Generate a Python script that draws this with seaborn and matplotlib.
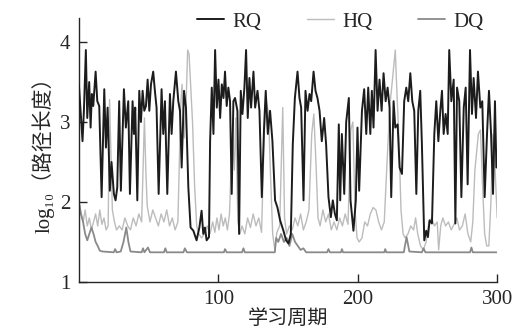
import numpy as np
import pandas as pd
import matplotlib
matplotlib.use("Agg")
import matplotlib.pyplot as plt
import seaborn as sns

# ---- data ----
rq_x = [0, 2.6, 3.6, 5, 6, 7.4, 8.4, 9.3, 10.3, 12, 13.2, 14.6, 16.3, 18.2, 19.4, 20.6, 22.2, 23.4, 25.1, 26.3,
        27.5, 28.9, 30.1, 32.3, 33.7, 35.4, 36.6, 38.5, 39.5, 40.4, 41.9, 43.3, 44.5, 45.7, 46.9, 48.1, 49.3, 50.5,
        51.7, 53.3, 54.5, 55.7, 57.2, 59.3, 60.5, 61.7, 63.4, 65.3, 66.5, 67.7, 69.6, 71.3, 72.5, 73.7, 75.4, 76.8,
        78.5, 80.1, 82.1, 84.4, 86.4, 88, 89.2, 90.4, 91.6, 93.3, 94.1, 95.3, 96.5, 97.7, 98.9, 100.1, 101.3, 102.5,
        103.7, 104.8, 106, 107.2, 108.4, 109.6, 110.8, 112, 113.7, 114.9, 116.1, 117.3, 118.7, 119.9, 121.1, 122.3,
        123.5, 125.2, 126.4, 128.1, 129.5, 131.2, 132.8, 134, 135.5, 137.1, 138.8, 140.7, 142.4, 144.3, 146.7,
        148.6, 150.3, 152, 153.4, 154.9, 156.8, 158.2, 159.4, 161.1, 162.5, 164, 165.4, 166.6, 168.3, 169.7, 171.1,
        172.6, 174.2, 175.9, 177.3, 179, 180.7, 182.1, 183.6, 185, 186.4, 187.4, 188.6, 190.3, 191.7, 193.6, 194.8,
        196.9, 198.6, 199.8, 201, 203, 204.6, 206.1, 207.5, 209, 210.1, 211.3, 212.8, 214.2, 215.6, 217.1, 218.5,
        220, 221.4, 222.8, 224, 225.7, 226.9, 228.6, 230, 231.7, 233.3, 234.8, 236.2, 237.7, 239.1, 240.5, 242,
        243.4, 244.8, 246, 247.7, 249.1, 250.3, 251.5, 253.2, 254.9, 256.3, 257.8, 259.2, 260.4, 261.6, 263, 264.5,
        265.6, 267.1, 268.8, 270, 271.2, 272.8, 274.3, 276, 277.4, 278.8, 280.5, 281.9, 283.1, 284.8, 286.2, 287.9,
        289.3, 291, 292.7, 294.1, 295.6, 297, 298.4, 299.4]
rq_y = [3.47, 2.76, 3.14, 3.9, 3.05, 3.5, 2.93, 3.35, 3.2, 3.63, 3.26, 3.2, 2.06, 3.41, 2.68, 3.18, 2.14, 2.5, 2.1, 2.02,
        2.18, 3.26, 2.14, 3.41, 2.93, 3.26, 2.1, 3.26, 2.85, 3.18, 2.02, 3.39, 3.0, 3.39, 3.14, 3.2, 3.53, 3.14,
        3.47, 3.63, 3.39, 3.18, 2.1, 3.41, 2.85, 3.26, 2.1, 3.35, 2.85, 3.26, 3.63, 3.26, 3.14, 2.43, 3.39, 3.18,
        2.18, 1.68, 1.64, 1.52, 1.68, 1.89, 1.6, 1.68, 1.52, 1.56, 2.76, 3.43, 2.85, 3.9, 3.18, 3.53, 3.05, 3.47,
        3.3, 3.63, 3.2, 3.43, 3.26, 2.1, 3.26, 3.3, 3.14, 1.6, 3.39, 3.1, 3.43, 3.9, 3.05, 3.55,
        3.18, 3.63, 3.18, 3.39, 3.14, 2.06, 2.93, 3.39, 2.85, 3.14, 2.76, 2.02, 1.93, 1.77, 1.64,
        1.52, 1.48, 1.6, 2.72, 3.3, 3.63, 3.3, 3.18, 2.02, 3.39, 3.14, 3.35, 3.26, 3.63, 3.39, 3.3,
        3.14, 2.76, 3.05, 2.72, 2.06, 1.81, 2.02, 1.85, 1.77, 2.97, 2.02, 2.85, 2.1, 3.0, 3.3, 2.02,
        1.64, 2.02, 2.93, 2.14, 3.14, 3.41, 2.85, 3.43, 2.85, 3.39, 2.93, 3.9, 3.14, 3.53, 3.14, 3.61,
        3.26, 3.43, 3.18, 2.06, 3.26, 2.93, 2.97, 2.43, 2.35, 3.26, 3.43, 3.26, 3.61, 3.26, 3.14, 2.1,
        3.14, 3.39, 2.72, 1.52, 1.64, 1.56, 1.77, 1.73, 2.85, 3.26, 2.76, 3.14, 3.39, 2.85, 3.1, 2.85,
        3.9, 3.26, 3.53, 1.73, 3.43, 3.26, 2.06, 3.18, 3.43, 2.22, 3.9, 3.1, 3.55, 3.05, 3.63, 3.18,
        3.26, 2.06, 2.85, 3.39, 2.85, 2.1, 3.26, 2.43]

hq_x = [0, 1.5, 3, 4.5, 6, 7.5, 9, 10.5, 12, 13.5, 15, 16.5, 18, 19.5, 21, 22, 23, 24, 25.5, 27, 29, 31, 33, 35, 37,
        39, 41, 43, 45, 47, 48, 49, 51, 53, 55, 57, 59, 61, 63, 65, 67, 69, 71, 73, 74, 75.5, 77, 78, 79, 80, 81.5,
        83, 84.5, 86, 88, 90, 92, 94, 96, 97.5, 99, 100.5, 102, 103.5, 105, 106.5, 108, 110, 111.5, 112.5, 114,
        115.5, 117, 119, 121, 123, 125, 127, 129, 131, 133, 134.5, 136, 137.5, 139, 140.5, 142, 144, 146.2, 147.5,
        149, 151, 153, 155, 157, 159, 161, 163, 165, 167, 168.5, 170, 171.5, 173, 175, 177, 179, 181, 183, 185,
        187, 189, 191, 193, 195, 196.5, 198, 199.5, 201, 203, 205, 207, 209, 211, 213, 215, 217, 219, 221, 223,
        225, 226.9, 228, 229.5, 231, 232.5, 234, 236, 238, 240, 241.5, 243, 245, 247, 249, 251, 253, 255, 257,
        258, 259.5, 261, 263, 265, 267, 269, 271, 273, 275, 277, 279, 281, 282.5, 284, 286.5, 288, 289.5, 291,
        292.5, 294, 295.5, 297, 298.5, 300]
hq_y = [2.0, 1.85, 1.75, 1.9, 1.7, 1.8, 1.65, 1.75, 1.85, 1.7, 1.9, 1.72, 1.8, 1.65, 1.7, 3.28, 2.6, 1.9, 1.75, 1.65,
        1.7, 1.65, 1.8, 1.7, 1.65, 1.8, 1.7, 1.85, 1.75, 3.05, 2.4, 1.95, 1.75, 1.9, 1.8, 1.7, 1.85, 1.75, 1.9, 1.7,
        1.8, 1.65, 1.75, 3.2, 3.47, 2.8, 3.3, 3.9, 3.85, 3.5, 3.0, 2.2, 1.7, 1.6, 1.55, 1.6, 1.7, 1.6, 1.75, 1.62,
        1.8, 1.65, 1.85, 1.7, 1.8, 1.65, 1.85, 2.85, 2.4, 3.05, 1.75, 1.6, 1.7, 1.6, 1.8, 1.68, 1.85, 1.7, 1.8,
        1.62, 2.9, 3.26, 3.1, 2.3, 1.6, 1.4, 1.62, 1.7, 3.18, 1.8, 1.6, 1.7, 1.65, 1.8, 1.7, 1.85, 1.65, 1.75,
        1.9, 2.85, 3.1, 2.5, 1.8, 1.7, 1.9, 1.75, 1.85, 1.65, 1.75, 1.65, 1.8, 1.7, 1.85, 1.72, 2.9, 3.0, 1.9,
        1.55, 1.5, 1.55, 1.75, 1.7, 1.85, 1.93, 1.9, 1.75, 1.65, 1.75, 2.5, 3.2, 3.55, 3.9, 3.4, 2.8, 1.9, 1.6,
        1.55, 1.6, 1.7, 1.65, 1.8, 1.6, 1.45, 1.4, 1.5, 1.75, 1.8, 1.7, 1.75, 1.4, 1.7, 1.8, 1.7, 1.75, 1.65,
        1.72, 1.8, 1.65, 1.7, 1.85, 1.6, 1.5, 1.75, 2.4, 2.85, 2.9, 2.2, 1.6, 1.45, 1.45, 2.0, 2.85, 2.4, 1.8]

dq_x = [0, 1.5, 3, 4.5, 6, 7.5, 9, 10.5, 12, 13.5, 15, 17, 25, 26, 27, 30, 32, 34, 35.5, 37, 45, 46, 47, 49.5, 51,
        61, 62, 63, 75, 76, 77.5, 104, 104.8, 106, 117, 118, 119, 140.5, 141.5, 143, 145, 147, 149, 151, 153, 155,
        157, 159, 161, 163, 178, 179, 180, 188, 188.6, 189.5, 219, 219.7, 220.5, 233, 235, 237, 246, 247.2, 248.5,
        280.5, 281.5, 282.5, 300]
dq_y = [2.0, 1.85, 1.75, 1.6, 1.52, 1.6, 1.68, 1.6, 1.5, 1.45, 1.39, 1.38, 1.37, 1.41, 1.37, 1.38, 1.5, 1.68, 1.5,
        1.38, 1.37, 1.42, 1.37, 1.43, 1.37, 1.37, 1.42, 1.37, 1.37, 1.42, 1.37, 1.37, 1.41, 1.37, 1.37, 1.42, 1.37,
        1.37, 1.55, 1.5, 1.6, 1.5, 1.55, 1.45, 1.6, 1.5, 1.45, 1.4, 1.42, 1.37, 1.37, 1.41, 1.37, 1.37, 1.41, 1.37,
        1.37, 1.41, 1.37, 1.37, 1.56, 1.38, 1.37, 1.42, 1.37, 1.37, 1.43, 1.37, 1.37]

series_names = ["RQ", "HQ", "DQ"]
x_ticks = [100, 200, 300]
y_ticks = [1, 2, 3, 4]

df = pd.concat([
    pd.DataFrame({"x": rq_x, "y": rq_y, "s": "RQ"}),
    pd.DataFrame({"x": hq_x, "y": hq_y, "s": "HQ"}),
    pd.DataFrame({"x": dq_x, "y": dq_y, "s": "DQ"}),
], ignore_index=True)

sns.set_style("ticks")
plt.rcParams["font.family"] = ["Liberation Serif", "DejaVu Serif", "Noto Sans CJK SC"]

fig = plt.figure(figsize=(5.19, 3.34), dpi=100)
ax = fig.add_axes([0.152, 0.156, 0.806, 0.79])

palette = {"RQ": "#1c1c1c", "HQ": "#bcbcbc", "DQ": "#8a8a8a"}
sizes = {"RQ": 1.4, "HQ": 1.0, "DQ": 1.3}
for name in ["HQ", "DQ", "RQ"]:
    sub = df[df["s"] == name]
    sns.lineplot(data=sub, x="x", y="y", ax=ax, color=palette[name],
                 linewidth=sizes[name], estimator=None, label=name, zorder=3 if name == "RQ" else 2)

ax.set_xlim(0, 300)
ax.set_ylim(1, 4.3)
ax.set_xticks(x_ticks)
ax.set_yticks(y_ticks)
ax.tick_params(direction="in", length=6, width=1, labelsize=15, pad=6)
for sp in ["top", "right"]:
    ax.spines[sp].set_visible(False)
for sp in ["left", "bottom"]:
    ax.spines[sp].set_linewidth(1.0)

ax.set_xlabel("学习周期", fontsize=14.5, labelpad=0,
              family=["Noto Sans CJK SC", "DejaVu Sans"])
ax.set_ylabel("log₁₀（路径长度）", fontsize=15, labelpad=4,
              family=["Liberation Serif", "DejaVu Serif", "Noto Sans CJK SC"])

handles, labels = ax.get_legend_handles_labels()
order = [labels.index(n) for n in series_names]
ax.legend([handles[i] for i in order], [labels[i] for i in order],
          loc="center", bbox_to_anchor=(0.625, 0.985), ncol=3, frameon=False,
          handlelength=1.3, handletextpad=0.4, columnspacing=2.2, fontsize=15)

fig.savefig("out.png", dpi=100)
